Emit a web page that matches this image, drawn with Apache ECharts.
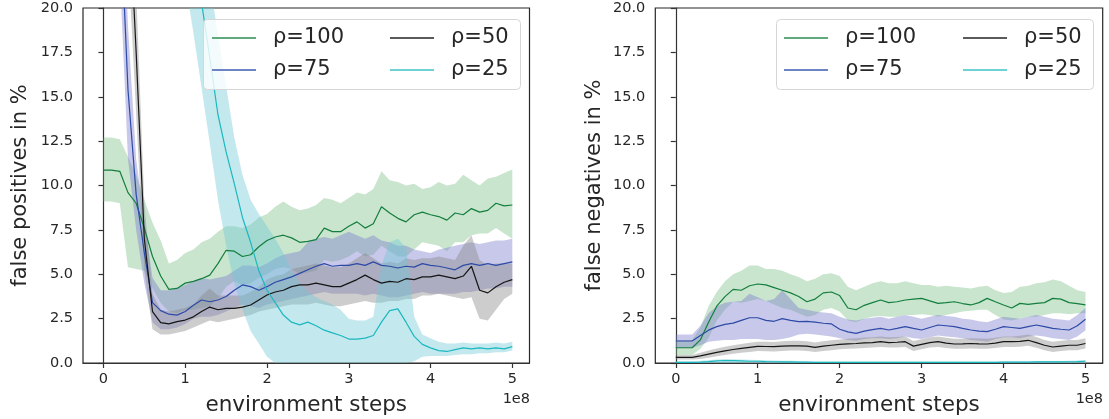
<!DOCTYPE html>
<html><head><meta charset="utf-8">
<script src="https://cdn.jsdelivr.net/npm/echarts@6/dist/echarts.min.js"></script>
<style>html,body{margin:0;padding:0;background:#fff}#c{width:1109px;height:419px}</style>
</head><body><div id="c"></div>
<script>
// x in units of 1e8 environment steps
const X = [0,0.1,0.2,0.3,0.4,0.5,0.6,0.7,0.8,0.9,1,1.1,1.2,1.3,1.4,1.5,1.6,1.7,1.8,1.9,2,2.1,2.2,2.3,2.4,2.5,2.6,2.7,2.8,2.9,3,3.1,3.2,3.3,3.4,3.5,3.6,3.7,3.8,3.9,4,4.1,4.2,4.3,4.4,4.5,4.6,4.7,4.8,4.9,5];
const X_TICKS = [0,1,2,3,4,5];
const NAMES = ['ρ=100','ρ=75','ρ=50','ρ=25'];

// ---- false positives (left panel) ----
const fp100 = [10.87,10.87,10.8,9.6,9.0,7.6,6.0,4.9,4.15,4.2, 4.5,4.6,4.75,4.95,5.6,6.35,6.3,6.0,6.1,6.55, 6.9,7.1,7.2,7.05,6.8,6.85,6.95,7.6,7.4,7.4, 7.7,7.95,7.6,7.85,8.8,8.45,8.15,7.95,8.35,8.5, 8.35,8.25,8.05,8.45,8.35,8.7,8.5,8.6,9.0,8.85, 8.9];
const fp100Lo = [9.1,9.1,9.0,5.4,5.3,5.2,4.2,3.4,2.9,2.8, 3.0,3.0,3.1,3.2,3.6,4.3,4.6,4.4,4.5,4.8, 5.0,5.3,5.4,5.3,5.0,5.1,5.2,5.8,5.7,5.8, 6.0,6.3,6.0,6.1,6.6,6.3,6.0,6.0,6.4,6.8, 6.7,6.6,6.3,6.8,6.8,7.2,7.3,7.3,7.6,7.3, 7.0];
const fp100Hi = [12.7,12.7,12.6,11.6,10.6,9.2,7.9,6.9,5.6,5.8, 6.2,6.4,6.8,7.0,7.4,7.7,7.7,7.6,7.8,8.2, 8.4,8.8,9.1,8.8,8.6,8.7,8.9,9.3,9.2,9.0, 9.3,9.6,9.5,9.8,10.8,10.3,10.2,10.0,10.1,9.8, 9.9,10.2,10.0,10.1,10.6,10.3,10.0,10.4,10.5,10.7, 10.9];

const fp75 = [34,30,26,15.4,9.5,6.2,3.4,2.95,2.75,2.7, 2.9,3.25,3.55,3.45,3.55,3.75,4.1,4.4,4.3,4.1, 4.3,4.55,4.7,4.85,5.05,5.25,5.45,5.6,5.45,5.5, 5.5,5.6,5.5,5.7,5.5,5.45,5.35,5.45,5.4,5.6, 5.5,5.45,5.35,5.25,5.5,5.6,5.5,5.6,5.5,5.6, 5.7];
const fp75Lo = [30,26,22,11.5,7.5,4.5,2.3,1.9,1.9,2.0, 2.2,2.5,2.6,2.6,2.7,2.9,3.1,3.3,3.2,3.1, 3.3,3.4,3.5,3.6,3.7,3.8,3.9,4.0,3.9,3.9, 3.9,3.9,3.8,3.9,3.8,3.7,3.7,3.8,3.9,4.0, 3.9,3.9,3.9,3.9,4.0,4.0,4.1,4.2,4.2,4.3, 4.3];
const fp75Hi = [38,34,30,19,11.5,8.0,4.8,4.1,4.1,4.2, 4.4,4.6,4.8,4.7,4.8,4.9,5.2,5.5,5.5,5.4, 5.6,5.9,6.1,6.2,6.3,6.8,7.0,7.1,7.0,7.2, 7.4,7.2,7.0,7.2,6.9,6.8,6.6,6.6,6.4,6.3, 6.2,6.4,6.5,6.6,6.7,6.8,6.7,6.8,6.9,6.9, 7.0];

const fp50 = [42,38,34,27,17.5,7.0,2.9,2.27,2.2,2.33, 2.42,2.6,2.9,3.15,3.0,3.08,3.08,3.15,3.27,3.55, 3.83,4.0,4.1,4.3,4.4,4.4,4.5,4.4,4.3,4.3, 4.5,4.7,4.95,4.7,4.5,4.6,4.55,4.75,4.7,4.85, 4.85,4.95,4.85,4.75,4.9,5.45,4.1,3.95,4.3,4.55, 4.7];
const fp50Lo = [38,34,30,23,14,5.2,1.9,1.6,1.6,1.7, 1.8,2.0,2.2,2.4,2.3,2.4,2.5,2.6,2.7,2.9, 3.0,3.1,3.2,3.3,3.3,3.3,3.4,3.3,3.2,3.2, 3.3,3.4,3.5,3.4,3.4,3.5,3.5,3.6,3.6,3.8, 3.8,3.9,3.8,3.7,3.6,3.7,2.5,2.4,3.0,3.6, 3.9];
const fp50Hi = [46,42,38,31,21,9.0,3.9,3.0,2.9,3.0, 3.1,3.3,3.8,4.2,3.8,3.8,3.8,3.8,4.0,4.3, 4.7,4.9,5.0,5.3,5.4,5.5,5.6,5.5,5.4,5.4, 5.6,5.9,6.2,5.9,5.6,5.7,5.6,5.9,5.8,5.9, 5.9,6.0,5.9,5.8,6.6,7.2,5.8,5.5,5.6,5.6, 5.6];

const fp25 = [45,44,43,42,41,40,38,36,33,29, 25,22.5,20.3,17.2,14.0,11.9,10.1,8.2,6.8,5.2, 4.1,3.4,2.7,2.3,2.15,2.3,2.1,1.85,1.7,1.55, 1.35,1.35,1.4,1.55,2.3,2.95,3.05,2.3,1.5,1.05, 0.85,0.7,0.65,0.75,0.85,0.8,0.85,0.8,0.85,0.8, 0.92];
const fp25Lo = [41,40,39,38,37,36,34,32,29,25, 21.5,18.6,15.5,12.4,9.2,6.6,4.5,3.0,1.8,1.1, 0.35,0,0,0,0,0,0,0,0,0, 0,0,0,0,0,0,0,0,0.1,0.35, 0.4,0.4,0.4,0.45,0.5,0.5,0.55,0.55,0.6,0.6, 0.7];
const fp25Hi = [49,48,47,46,45,44,42,40,37,33, 29,26.5,24.5,21.5,18.5,15.6,12.7,10.6,9.2,8.4, 7.7,7.0,6.2,5.2,4.5,4.0,3.7,3.5,3.3,3.0, 2.5,2.4,2.4,2.6,5.5,6.8,7.0,6.5,2.6,1.6, 1.4,1.2,1.1,1.1,1.15,1.1,1.1,1.1,1.15,1.1, 1.2];

// ---- false negatives (right panel) ----
const fn100 = [0.86,0.86,0.86,1.3,2.3,3.2,3.74,4.15,4.1,4.35, 4.45,4.4,4.25,4.1,3.95,3.75,3.45,3.6,3.95,4.0, 3.8,3.1,3.0,3.25,3.4,3.55,3.4,3.45,3.55,3.6, 3.64,3.5,3.36,3.4,3.45,3.35,3.27,3.4,3.64,3.45, 3.27,3.1,3.36,3.3,3.36,3.4,3.64,3.6,3.4,3.35, 3.27];
const fn100Lo = [0.45,0.45,0.45,0.8,1.4,2.4,3.0,3.45,3.4,3.5, 3.6,3.5,3.3,3.1,3.0,2.8,2.6,2.7,3.0,3.1, 2.9,2.4,2.3,2.5,2.6,2.65,2.6,2.6,2.7,2.7, 2.75,2.7,2.6,2.7,2.8,2.9,2.95,3.0,3.0,2.7, 2.45,2.4,2.5,2.6,2.6,2.7,2.8,2.8,2.75,2.8, 2.8];
const fn100Hi = [1.3,1.3,1.3,2.0,3.2,4.0,4.6,5.0,5.2,5.5, 5.5,5.3,5.3,5.2,5.0,4.85,4.6,4.75,5.0,5.05, 4.9,4.3,4.1,4.3,4.5,4.6,4.5,4.5,4.6,4.5, 4.4,4.4,4.3,4.35,4.3,4.25,4.2,4.3,4.35,4.1, 3.95,4.0,4.3,4.35,4.5,4.55,4.7,4.6,4.35,4.1, 4.0];

const fn75 = [1.24,1.24,1.24,1.55,1.85,2.05,2.18,2.25,2.4,2.55, 2.55,2.4,2.35,2.5,2.4,2.33,2.35,2.3,2.24,2.2, 1.9,1.75,1.67,1.8,1.88,1.95,1.86,1.95,2.05,1.95, 1.86,2.0,2.14,2.1,2.05,1.95,1.86,1.8,1.77,1.9, 2.05,2.0,1.95,2.05,2.14,2.05,1.95,1.9,1.86,2.1, 2.46];
const fn75Lo = [0.86,0.86,0.86,1.0,1.2,1.25,1.3,1.3,1.35,1.35, 1.35,1.3,1.3,1.35,1.45,1.6,1.65,1.6,1.55,1.5, 1.4,1.3,1.25,1.35,1.4,1.4,1.35,1.4,1.5,1.4, 1.35,1.45,1.55,1.5,1.45,1.4,1.3,1.25,1.2,1.35, 1.45,1.45,1.4,1.5,1.55,1.5,1.4,1.35,1.3,1.5, 1.85];
const fn75Hi = [1.6,1.6,1.6,2.1,2.8,3.2,3.4,3.45,3.5,3.9, 3.7,3.5,3.6,4.1,3.6,3.1,3.0,2.9,2.85,2.8, 2.6,2.45,2.4,2.5,2.55,2.6,2.5,2.6,2.7,2.6, 2.5,2.6,2.7,2.65,2.6,2.5,2.45,2.35,2.3,2.45, 2.6,2.55,2.5,2.6,2.7,2.6,2.5,2.45,2.4,2.7, 3.1];

const fn50 = [0.32,0.32,0.32,0.4,0.5,0.6,0.68,0.76,0.82,0.88, 0.94,0.93,0.92,0.95,0.97,0.97,0.95,0.88,0.95,1.0, 1.05,1.08,1.1,1.13,1.15,1.2,1.15,1.17,1.2,0.95, 1.05,1.15,1.2,1.12,1.07,1.08,1.1,1.08,1.07,1.12, 1.2,1.2,1.22,1.28,1.15,1.0,0.9,0.95,1.0,1.0, 1.1];
const fn50Lo = [0.2,0.2,0.2,0.22,0.3,0.38,0.45,0.52,0.58,0.62, 0.68,0.66,0.65,0.68,0.7,0.7,0.68,0.62,0.68,0.72, 0.78,0.8,0.82,0.85,0.87,0.9,0.87,0.88,0.9,0.68, 0.78,0.87,0.9,0.84,0.8,0.8,0.82,0.8,0.8,0.84, 0.9,0.9,0.92,0.97,0.86,0.72,0.62,0.67,0.72,0.72, 0.82];
const fn50Hi = [0.45,0.45,0.45,0.58,0.7,0.82,0.92,1.0,1.07,1.14, 1.2,1.2,1.19,1.22,1.25,1.25,1.23,1.15,1.23,1.28, 1.33,1.37,1.4,1.43,1.45,1.5,1.45,1.47,1.5,1.24, 1.34,1.45,1.5,1.42,1.36,1.37,1.4,1.38,1.36,1.42, 1.5,1.5,1.53,1.6,1.46,1.3,1.2,1.25,1.3,1.3, 1.4];

const fn25 = [0.03,0.03,0.03,0.05,0.08,0.12,0.14,0.13,0.12,0.1, 0.1,0.08,0.07,0.06,0.06,0.05,0.05,0.04,0.04,0.04, 0.04,0.03,0.03,0.03,0.03,0.04,0.04,0.03,0.03,0.03, 0.03,0.03,0.03,0.03,0.03,0.04,0.04,0.04,0.04,0.04, 0.05,0.05,0.05,0.05,0.06,0.06,0.06,0.06,0.07,0.08, 0.1];
const fn25Lo = [0,0,0,0,0,0,0,0,0,0, 0,0,0,0,0,0,0,0,0,0, 0,0,0,0,0,0,0,0,0,0, 0,0,0,0,0,0,0,0,0,0, 0,0,0,0,0,0,0,0,0,0, 0];
const fn25Hi = [0.1,0.1,0.1,0.12,0.16,0.2,0.22,0.21,0.2,0.18, 0.17,0.15,0.14,0.12,0.12,0.11,0.1,0.09,0.09,0.09, 0.09,0.08,0.08,0.08,0.08,0.09,0.09,0.08,0.08,0.08, 0.08,0.08,0.08,0.08,0.08,0.09,0.09,0.09,0.09,0.09, 0.1,0.1,0.1,0.1,0.11,0.11,0.11,0.11,0.12,0.14, 0.17];

const LINE_COLORS = ['#137e3e','#2c4aa6','#151515','#1bb8bf'];
const BAND_COLORS = ['#7fc28a','#7b7bcc','#888888','#6fc9d6'];
const LEGEND_COLORS = ['#5fa97c','#6d84c4','#5a5a5a','#6fd2d2'];
const FONT = 'DejaVu Sans';
const TXT = '#262626';

const panels = [
  {mean:[fp100,fp75,fp50,fp25], lo:[fp100Lo,fp75Lo,fp50Lo,fp25Lo], hi:[fp100Hi,fp75Hi,fp50Hi,fp25Hi], ylabel:'false positives in %'},
  {mean:[fn100,fn75,fn50,fn25], lo:[fn100Lo,fn75Lo,fn50Lo,fn25Lo], hi:[fn100Hi,fn75Hi,fn50Hi,fn25Hi], ylabel:'false negatives in %'}
];

// band polygon drawn through the grid's own coordinate system
function bandRenderer(lo, hi, color) {
  return function (params, api) {
    if (params.dataIndex !== 0) return;
    const pts = [];
    for (let i = 0; i < X.length; i++) pts.push(api.coord([X[i], hi[i]]));
    for (let i = X.length - 1; i >= 0; i--) pts.push(api.coord([X[i], lo[i]]));
    const cs = params.coordSys;
    return {
      type:'polygon', silent:true,
      shape:{points:pts},
      style:{fill:color, opacity:0.42},
      clipPath:{type:'rect', shape:{x:cs.x, y:cs.y, width:cs.width, height:cs.height}}
    };
  };
}

const series = [];
panels.forEach((p, gi) => {
  for (let k = 0; k < 4; k++) {
    series.push({type:'custom', name:'band'+gi+'_'+k, xAxisIndex:gi, yAxisIndex:gi, silent:true,
      renderItem: bandRenderer(p.lo[k], p.hi[k], BAND_COLORS[k]),
      data: X.map((x,i)=>[x, p.lo[k][i], p.hi[k][i]]), encode:{x:0, y:[1,2]}, z:2});
    series.push({type:'line', name:NAMES[k], xAxisIndex:gi, yAxisIndex:gi, symbol:'none', showSymbol:false, silent:true,
      data: X.map((x,i)=>[x, p.mean[k][i]]), lineStyle:{color:LINE_COLORS[k], width:1.2}, itemStyle:{color:LINE_COLORS[k]}, z:2});
  }
});

const grids = [
  {left:83, top:8, width:446.5, height:355},
  {left:655.3, top:8, width:447.4, height:355}
].map(g => Object.assign(g, {show:true, borderColor:'#262626', borderWidth:1.2, backgroundColor:'transparent', containLabel:false, outerBoundsMode:'none'}));

const axisLineStyle = {color:'#333', width:1.2};
const xAxes = [0,1].map(gi => ({
  type:'value', gridIndex:gi, min:-0.25, max:5.21,
  name:'environment steps', nameLocation:'middle', nameGap:31,
  nameTextStyle:{fontSize:21.5, color:TXT, fontFamily:FONT},
  axisLine:{show:true, onZero:false, lineStyle:axisLineStyle},
  axisTick:{show:true, customValues:X_TICKS, length:5, inside:false, lineStyle:axisLineStyle},
  axisLabel:{show:true, customValues:X_TICKS, fontSize:14.5, color:TXT, margin:9, fontFamily:FONT, formatter:v=>String(v)},
  splitLine:{show:false}
}));
const yAxes = panels.map((p, gi) => ({
  type:'value', gridIndex:gi, min:0, max:20, interval:2.5,
  name:p.ylabel, nameLocation:'middle', nameGap:gi===0?52:50,
  nameTextStyle:{fontSize:21, color:TXT, fontFamily:FONT},
  axisLine:{show:true, lineStyle:axisLineStyle},
  axisTick:{show:true, length:5, inside:false, lineStyle:axisLineStyle},
  axisLabel:{show:true, fontSize:14.5, color:TXT, margin:10, fontFamily:FONT, formatter:v=>v.toFixed(1)},
  splitLine:{show:false}
}));

function legendCol(left, names) {
  return {
    orient:'vertical', left:left, top:27, padding:0, itemGap:10, itemWidth:44, itemHeight:2,
    selectedMode:false, z:20,
    textStyle:{fontSize:21, color:TXT, fontFamily:FONT, lineHeight:22, padding:[0,0,0,12]},
    data: names.map(n => ({name:n, icon:'rect', itemStyle:{color:LEGEND_COLORS[NAMES.indexOf(n)]}}))
  };
}
const legends = [
  legendCol(212, ['ρ=100','ρ=75']), legendCol(390, ['ρ=50','ρ=25']),
  legendCol(784, ['ρ=100','ρ=75']), legendCol(963, ['ρ=50','ρ=25'])
];

const graphic = [
  {type:'rect', left:203, top:19, z:15, shape:{width:317, height:70, r:4}, style:{fill:'rgba(255,255,255,0.8)', stroke:'#d6d6d6', lineWidth:1}},
  {type:'rect', left:776, top:19, z:15, shape:{width:317, height:70, r:4}, style:{fill:'rgba(255,255,255,0.8)', stroke:'#d6d6d6', lineWidth:1}},
  {type:'text', right:1109-530, top:392, z:15, style:{text:'1e8', fontSize:14.5, fill:TXT, fontFamily:FONT}},
  {type:'text', right:1109-1103, top:392, z:15, style:{text:'1e8', fontSize:14.5, fill:TXT, fontFamily:FONT}}
];

const chart = echarts.init(document.getElementById('c'), null, {renderer:'canvas'});
chart.setOption({
  animation:false, backgroundColor:'#fff',
  grid:grids, xAxis:xAxes, yAxis:yAxes, legend:legends, graphic:graphic, series:series
});
</script></body></html>
